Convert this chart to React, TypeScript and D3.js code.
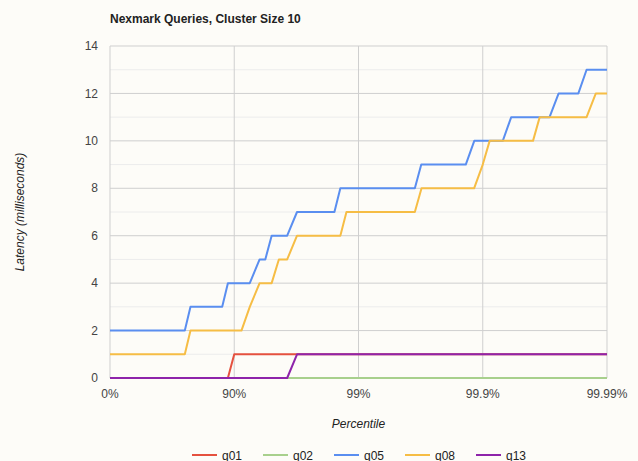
import * as d3 from 'd3'

const W = 638
const H = 461
const margin = { top: 46, right: 31, bottom: 83, left: 110 }

const title = 'Nexmark Queries, Cluster Size 10'
const xTitle = 'Percentile'
const yTitle = 'Latency (milliseconds)'

const xTickValues = [0, 90, 99, 99.9, 99.99]
const xTickLabels = ['0%', '90%', '99%', '99.9%', '99.99%']
const yTicks = [0, 2, 4, 6, 8, 10, 12, 14]
const yMinor = [1, 3, 5, 7, 9, 11, 13]

// percentile -> latency (ms)
const q01Pct = [0, 88.75, 90, 99.99]
const q01Lat = [0, 0, 1, 1]

const q02Pct = [0, 99.99]
const q02Lat = [0, 0]

const q05Pct = [0, 75, 77.5, 87.5, 88.75, 92.5, 93.75, 94.375, 95, 96.25, 96.875, 98.4375, 98.6, 99.648, 99.6875, 99.863, 99.883, 99.931, 99.941, 99.971, 99.9755, 99.983, 99.9854, 99.99]
const q05Lat = [2, 2, 3, 3, 4, 4, 5, 5, 6, 6, 7, 7, 8, 8, 9, 9, 10, 10, 11, 11, 12, 12, 13, 13]

const q08Pct = [0, 75, 77.5, 91.25, 92.5, 93.75, 95, 95.625, 96.25, 96.875, 98.6, 98.75, 99.648, 99.689, 99.8826, 99.9, 99.912, 99.9606, 99.9652, 99.9854, 99.9877, 99.99]
const q08Lat = [1, 1, 2, 2, 3, 4, 4, 5, 5, 6, 6, 7, 7, 8, 8, 9, 10, 10, 11, 11, 12, 12]

const q13Pct = [0, 96.25, 96.875, 99.99]
const q13Lat = [0, 0, 1, 1]

const seriesNames = ['q01', 'q02', 'q05', 'q08', 'q13']
const seriesColors = ['#e5513f', '#a8d08d', '#5a8ef0', '#f6bd45', '#8e24aa']
const seriesPct = [q01Pct, q02Pct, q05Pct, q08Pct, q13Pct]
const seriesLat = [q01Lat, q02Lat, q05Lat, q08Lat, q13Lat]

const font = 'Arial, "Liberation Sans", sans-serif'

// percentile on a "nines" scale
const nines = (p: number) => -Math.log10(1 - p / 100)

export default function App() {
  const x = d3
    .scaleLinear()
    .domain([nines(0), nines(99.99)])
    .range([margin.left, W - margin.right])

  const y = d3
    .scaleLinear()
    .domain([0, 14])
    .range([H - margin.bottom, margin.top])

  const line = d3
    .line<[number, number]>()
    .x(d => x(nines(d[0])))
    .y(d => y(d[1]))

  const x0 = x.range()[0]
  const x1 = x.range()[1]
  const midX = (x0 + x1) / 2
  const midY = (y(0) + y(14)) / 2

  return (
    <div style={{ position: 'fixed', left: 0, top: 0 }}>
      <svg width={W} height={H} style={{ display: 'block', background: '#fdfcf8' }} fontFamily={font}>
        <text x={margin.left} y={23} fontSize={12} fontWeight="bold" fill="#222">
          {title}
        </text>

        {/* minor grid */}
        {yMinor.map(v => (
          <line key={'m' + v} x1={x0} x2={x1} y1={y(v)} y2={y(v)} stroke="#ececec" strokeWidth={1} />
        ))}
        {/* major grid */}
        {yTicks.map(v => (
          <line key={'g' + v} x1={x0} x2={x1} y1={y(v)} y2={y(v)} stroke="#cfcfcf" strokeWidth={1} />
        ))}
        {xTickValues.map(v => (
          <line key={'v' + v} x1={x(nines(v))} x2={x(nines(v))} y1={y(0)} y2={y(14)} stroke="#cfcfcf" strokeWidth={1} />
        ))}

        {/* y tick labels */}
        {yTicks.map(v => (
          <text key={'yl' + v} x={x0 - 12} y={y(v)} dy="0.35em" textAnchor="end" fontSize={12} fill="#444">
            {v}
          </text>
        ))}
        {/* x tick labels */}
        {xTickValues.map((v, i) => (
          <text key={'xl' + v} x={x(nines(v))} y={398} textAnchor="middle" fontSize={12} fill="#444">
            {xTickLabels[i]}
          </text>
        ))}

        {/* series */}
        {seriesNames.map((name, i) => {
          const pts = seriesPct[i].map((p, j) => [p, seriesLat[i][j]] as [number, number])
          return (
            <path key={name} d={line(pts) || ''} fill="none" stroke={seriesColors[i]} strokeWidth={2} strokeLinejoin="round" />
          )
        })}

        {/* axis titles */}
        <text x={midX} y={428} textAnchor="middle" fontSize={12} fontStyle="italic" fill="#222">
          {xTitle}
        </text>
        <text
          transform={`translate(24, ${midY}) rotate(-90)`}
          textAnchor="middle"
          fontSize={12}
          fontStyle="italic"
          fill="#222"
        >
          {yTitle}
        </text>

        {/* legend */}
        {seriesNames.map((name, i) => {
          const lx = 192 + i * 71
          return (
            <g key={'lg' + name}>
              <line x1={lx} x2={lx + 25} y1={455} y2={455} stroke={seriesColors[i]} strokeWidth={2} />
              <text x={lx + 30} y={459.5} fontSize={12} fill="#222">
                {name}
              </text>
            </g>
          )
        })}
      </svg>
    </div>
  )
}
